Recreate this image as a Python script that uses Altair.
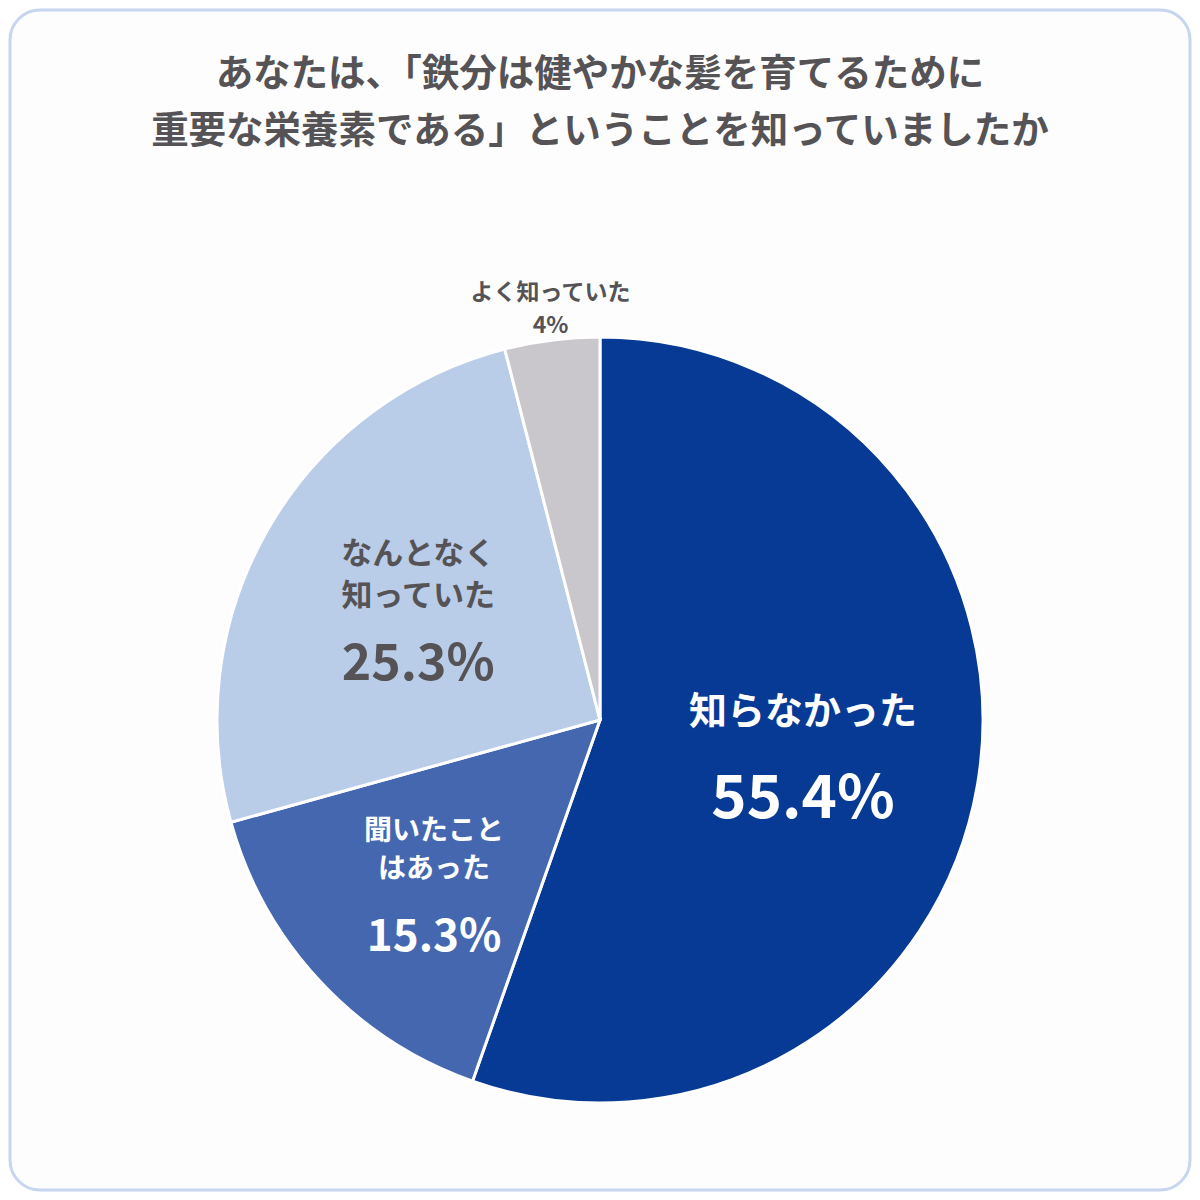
import altair as alt
import pandas as pd

categories = ["知らなかった", "聞いたことはあった", "なんとなく知っていた", "よく知っていた"]
values = [55.4, 15.3, 25.3, 4.0]
pct_labels = ["55.4%", "15.3%", "25.3%", "4%"]
colors = ["#063a94", "#4467b0", "#b9cde9", "#c9c7cc"]
title_lines = ["あなたは、「鉄分は健やかな髪を育てるために", "重要な栄養素である」ということを知っていましたか"]

df = pd.DataFrame({"cat": categories, "value": values, "pct": pct_labels, "order": list(range(len(categories)))})

W = 1184
H = 1184
CX = 592
CY = 712
R = 383
FONT = "Noto Sans CJK JP"
GRAY = "#555356"

base = alt.Chart(df)

border = alt.Chart(pd.DataFrame({"a": [0]})).mark_rect(
    fill="#fefdfd", stroke="#c6d6ef", strokeWidth=3, cornerRadius=30
).encode(x=alt.value(2), x2=alt.value(1182), y=alt.value(2), y2=alt.value(1182))

pie = base.mark_arc(outerRadius=R, stroke="white", strokeWidth=3).encode(
    theta=alt.Theta("value:Q", stack=True),
    order=alt.Order("order:Q"),
    color=alt.Color("cat:N", scale=alt.Scale(domain=categories, range=colors), legend=None),
    x=alt.value(CX),
    y=alt.value(CY),
)


def label(cat, text, size, color, radius, dy):
    return base.transform_calculate(
        t=f"datum.cat == '{cat}' ? '{text}' : ''"
    ).mark_text(
        radius=radius, dy=dy, fontSize=size, font=FONT, fontWeight="bold",
        color=color, align="center", baseline="middle"
    ).encode(
        theta=alt.Theta("value:Q", stack=True),
        order=alt.Order("order:Q"),
        text="t:N",
        x=alt.value(CX),
        y=alt.value(CY),
    )


texts = [
    label(categories[0], "知らなかった", 38, "white", 206, -42),
    label(categories[0], pct_labels[0], 60, "white", 206, 45),
    label(categories[1], "聞いたこと", 28, "white", 227, -43),
    label(categories[1], "はあった", 28, "white", 227, -5),
    label(categories[1], pct_labels[1], 44, "white", 227, 63),
    label(categories[2], "なんとなく", 31, GRAY, 210, -60),
    label(categories[2], "知っていた", 31, GRAY, 210, -18),
    label(categories[2], pct_labels[2], 50, GRAY, 210, 50),
    label(categories[3], "よく知っていた", 23, GRAY, 395, -35),
    label(categories[3], pct_labels[3], 23, GRAY, 395, -2),
]

title = alt.Chart(pd.DataFrame({"line": title_lines, "i": [0, 1]})).mark_text(
    fontSize=37.5, font=FONT, fontWeight="bold", color=GRAY, align="center", baseline="middle"
).encode(
    text="line:N",
    x=alt.value(CX),
    y=alt.Y("i:Q", axis=None, scale=alt.Scale(domain=[0, 1], range=[67, 124])),
)

chart = alt.layer(border, pie, *texts, title).properties(
    width=W, height=H, padding=0, autosize=alt.AutoSizeParams(type="none"),
    background="white"
).configure_view(stroke=None)

chart.save("out.html", embed_options={"renderer": "svg", "actions": False})
